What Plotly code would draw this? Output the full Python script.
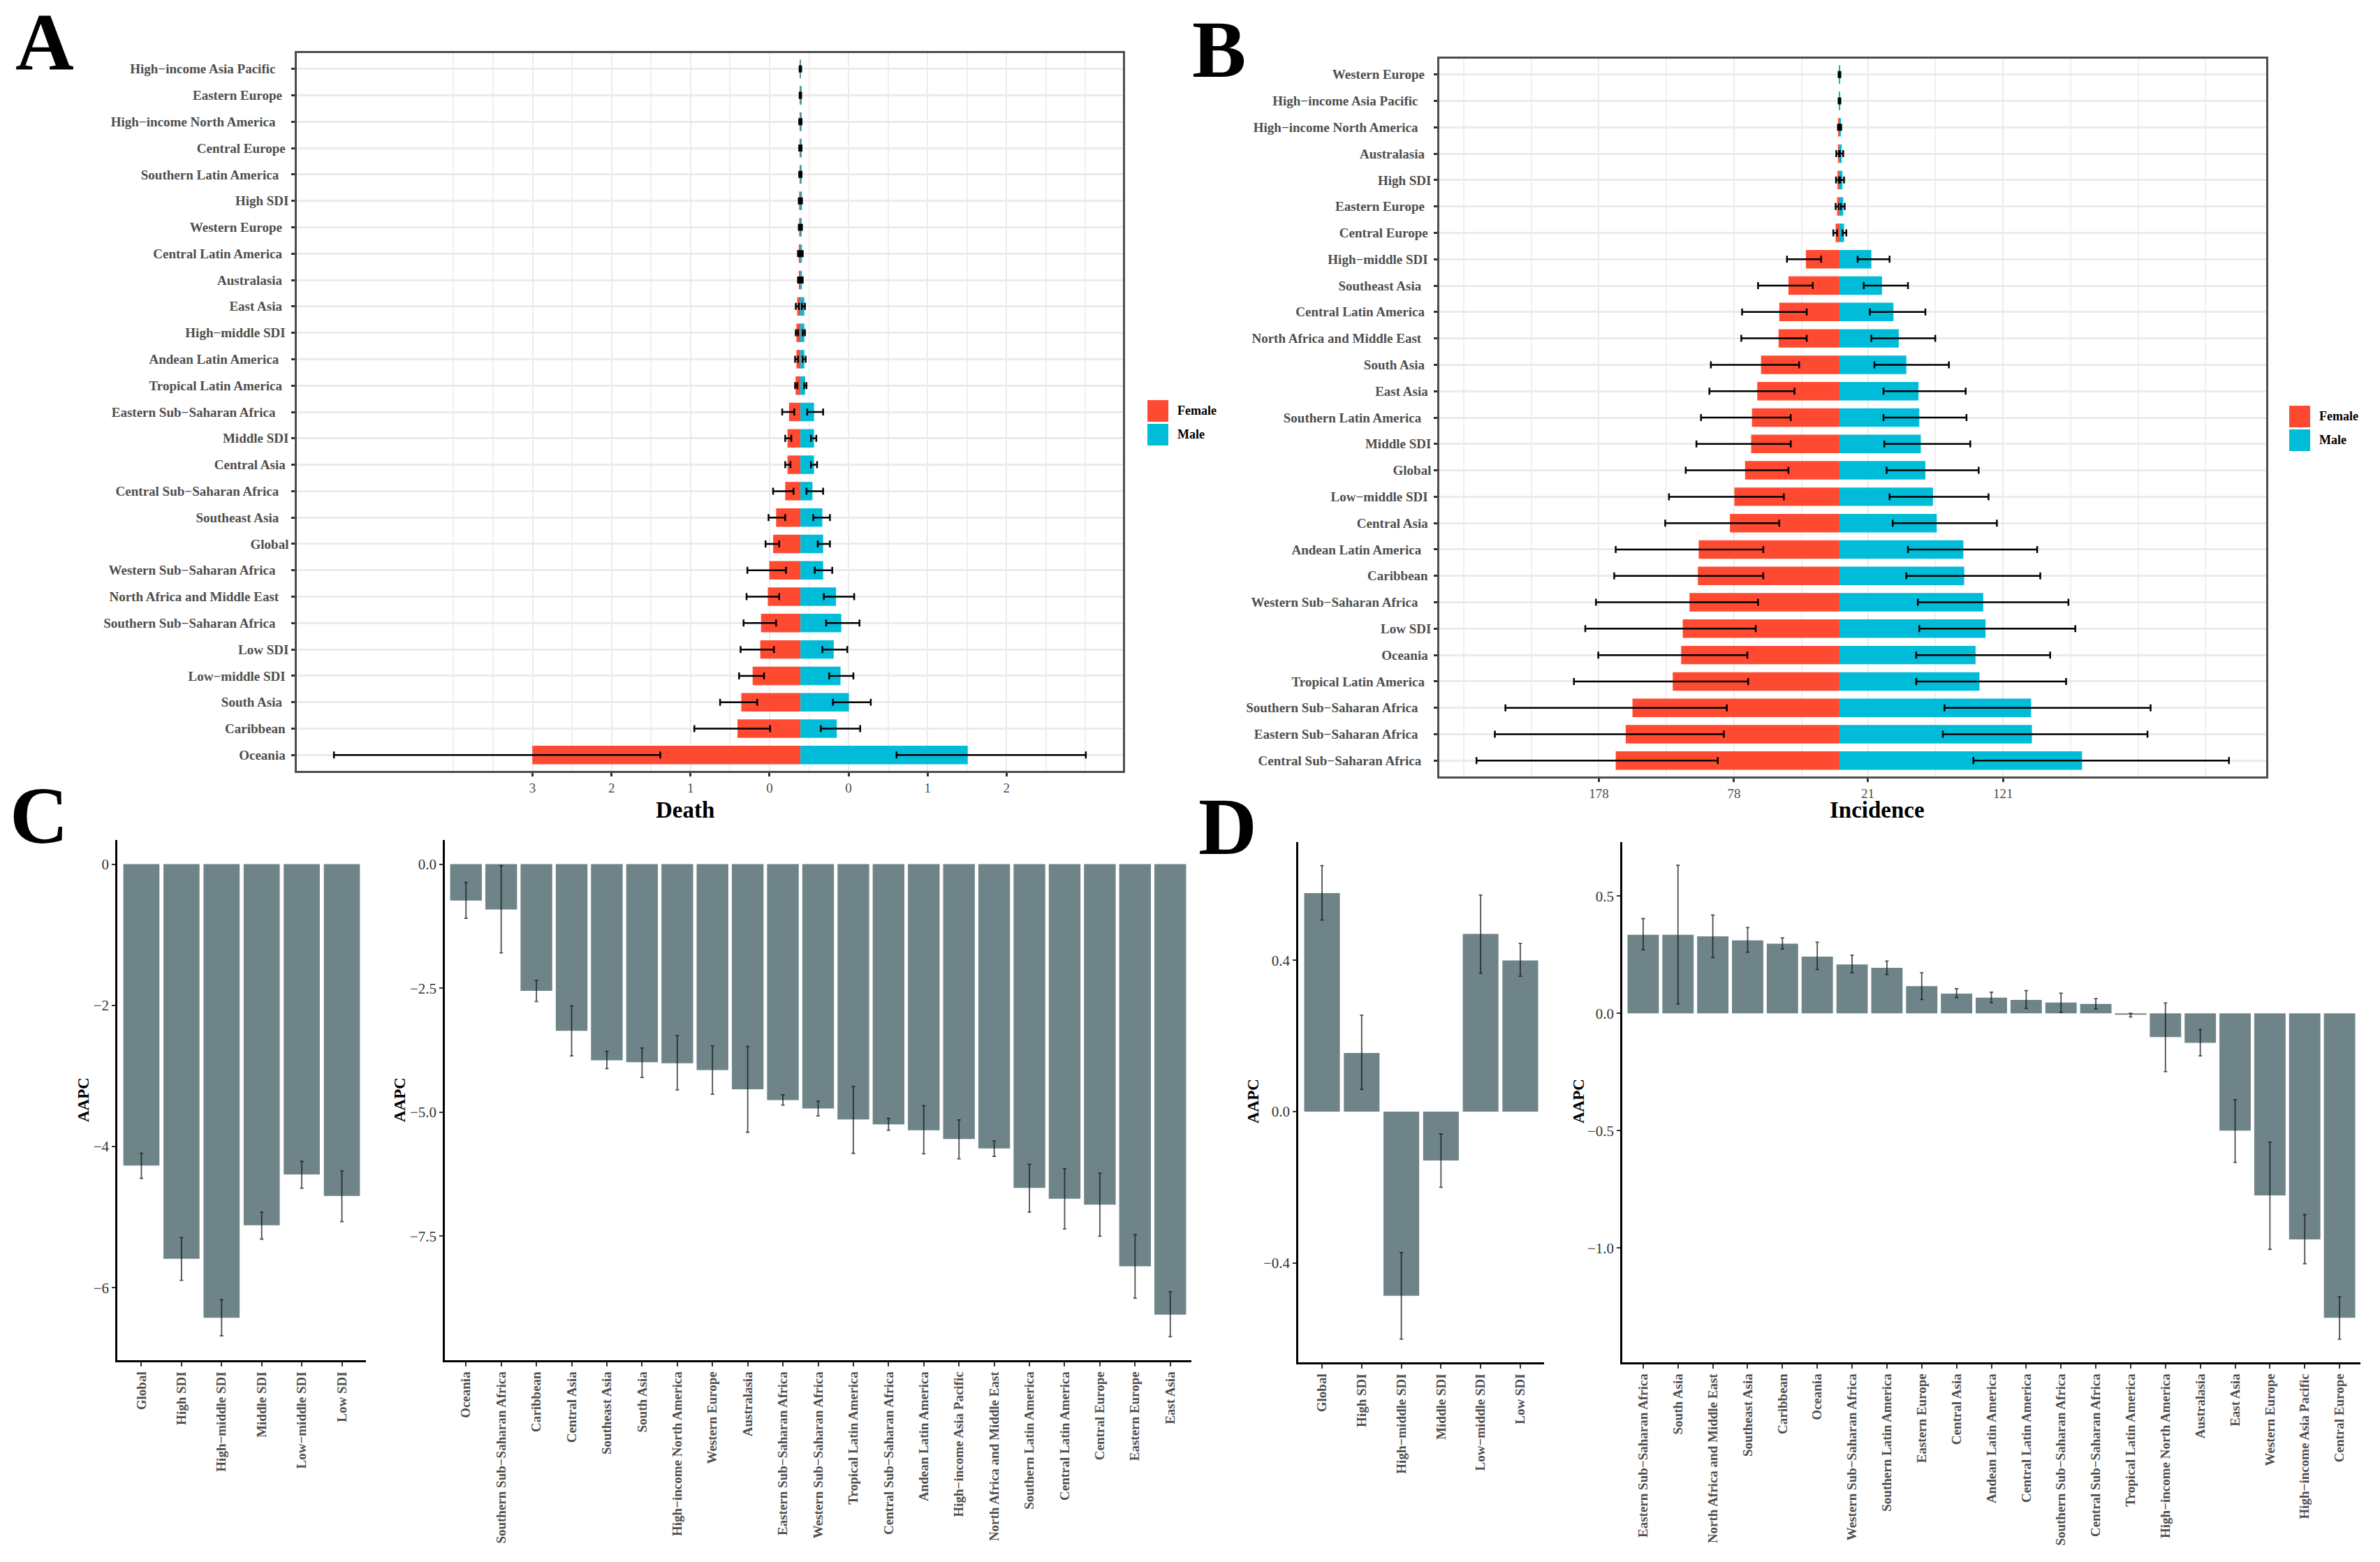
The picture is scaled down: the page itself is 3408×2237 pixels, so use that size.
import plotly.graph_objects as go

NB = "\u00a0"
W, H = 3408, 2237
SERIF = "Liberation Serif"

death_regions = ["High−income Asia Pacific" + NB*4, "Eastern Europe" + NB*2, "High−income North America" + NB*4,
                 "Central Europe" + NB, "Southern Latin America" + NB*3, "High SDI", "Western Europe" + NB*2,
                 "Central Latin America" + NB*2, "Australasia" + NB*2, "East Asia" + NB*2, "High−middle SDI" + NB,
                 "Andean Latin America" + NB*3, "Tropical Latin America" + NB*2, "Eastern Sub−Saharan Africa" + NB*4,
                 "Middle SDI", "Central Asia" + NB, "Central Sub−Saharan Africa" + NB*3, "Southeast Asia" + NB*3,
                 "Global", "Western Sub−Saharan Africa" + NB*4, "North Africa and Middle East" + NB*3,
                 "Southern Sub−Saharan Africa" + NB*4, "Low SDI", "Low−middle SDI" + NB, "South Asia" + NB*2,
                 "Caribbean" + NB, "Oceania" + NB]
death_female = [.005, .01, .01, .01, .01, .015, .015, .02, .02, .04, .05, .05, .06, .144, .163, .163, .192, .307,
                .345, .393, .412, .498, .508, .604, .748, .796, 3.393]
death_male = [.005, .01, .015, .01, .015, .02, .015, .02, .02, .05, .05, .05, .06, .173, .173, .173, .153, .278,
              .288, .288, .451, .518, .422, .508, .614, .46, 2.118]
death_female_outer = [.01, .01, .015, .015, .015, .02, .02, .03, .03, .058, .058, .067, .067, .23, .192, .192, .345,
                      .403, .441, .671, .681, .719, .757, .776, 1.016, 1.342, 5.904]
death_female_inner = [0, 0, 0, 0, 0, .005, .005, .01, .01, .019, .029, .029, .038, .077, .115, .125, .086, .192,
                      .268, .182, .268, .307, .335, .46, .546, .383, 1.773]
death_male_inner = [0, 0, 0, 0, 0, .005, .005, .01, .01, .019, .029, .029, .048, .086, .134, .134, .077, .163, .22,
                    .182, .297, .326, .278, .364, .412, .259, 1.217]
death_male_outer = [.01, .01, .015, .015, .015, .02, .02, .03, .03, .058, .058, .067, .077, .288, .201, .211, .288,
                    .374, .374, .403, .681, .748, .594, .671, .891, .757, 3.613]
death_ticks = [-3.39, -2.39, -1.39, -.39, .61, 1.61, 2.61]
death_ticktext = ["3", "2", "1", "0", "0", "1", "2"]
death_grid = [-4.39, -3.89, -2.89, -1.89, -.89, .11, 1.11, 2.11, 3.11, 3.61]

inc_regions = ["Western Europe" + NB*2, "High−income Asia Pacific" + NB*4, "High−income North America" + NB*4,
               "Australasia" + NB*2, "High SDI", "Eastern Europe" + NB*2, "Central Europe" + NB,
               "High−middle SDI" + NB, "Southeast Asia" + NB*3, "Central Latin America" + NB*2,
               "North Africa and Middle East" + NB*3, "South Asia" + NB*2, "East Asia" + NB,
               "Southern Latin America" + NB*3, "Middle SDI", "Global", "Low−middle SDI" + NB, "Central Asia" + NB,
               "Andean Latin America" + NB*3, "Caribbean" + NB, "Western Sub−Saharan Africa" + NB*4, "Low SDI",
               "Oceania" + NB, "Tropical Latin America" + NB*2, "Southern Sub−Saharan Africa" + NB*4,
               "Eastern Sub−Saharan Africa" + NB*4, "Central Sub−Saharan Africa" + NB*3]
inc_female = [.3, .3, .6, 1.1, 1.4, 1.7, 2.8, 24.8, 37.7, 44.5, 45.0, 58.0, 60.8, 64.7, 65.3, 69.8, 77.7, 81.0, 104.1,
              104.7, 110.9, 115.9, 117.1, 123.3, 153.1, 158.1, 165.5]
inc_male = [.6, .6, 1.1, 1.7, 2.2, 2.8, 3.4, 23.6, 31.5, 40.0, 43.9, 49.5, 58.5, 59.1, 60.2, 63.6, 69.2, 72.0, 91.7,
            92.3, 106.4, 108.1, 100.7, 103.6, 141.8, 142.4, 179.5]
inc_female_outer = [.6, .6, 1.1, 2.3, 2.5, 2.8, 4.5, 38.8, 60.2, 72.0, 72.6, 95.1, 96.2, 102.4, 105.8, 113.7, 126.1,
                    128.9, 165.5, 166.6, 180.1, 188.0, 178.4, 196.4, 247.1, 254.9, 268.5]
inc_female_inner = [.1, .1, .2, .3, .3, .3, 1.7, 13.5, 19.7, 24.2, 24.2, 29.8, 33.2, 36.0, 36.0, 37.7, 41.1, 44.5,
                    56.3, 56.3, 60.2, 61.9, 68.1, 67.5, 83.3, 85.5, 90.0]
inc_male_inner = [.1, .1, .3, .3, .6, 1.1, 2.3, 13.5, 18.0, 22.5, 23.6, 25.9, 32.6, 32.6, 33.2, 34.9, 37.1, 39.4,
                  50.7, 49.5, 58.0, 59.1, 56.8, 56.8, 77.7, 76.5, 99.1]
inc_male_outer = [.7, .7, 1.3, 2.8, 3.4, 3.9, 5.1, 37.1, 50.7, 63.6, 70.9, 81.0, 93.4, 94.0, 96.8, 103.0, 110.3,
                  116.5, 146.3, 148.6, 169.4, 174.5, 155.9, 167.7, 230.2, 227.9, 288.2]
inc_ticks = [-178, -78, 21, 121]
inc_ticktext = ["178", "78", "21", "121"]
inc_grid = [-278, -228, -128, -28, 71, 171, 221, 271]

sdi_death = ["Global", "High SDI", "High−middle SDI", "Middle SDI", "Low−middle SDI", "Low SDI"]
sdi_death_aapc = [-4.27, -5.59, -6.426, -5.114, -4.395, -4.70]
sdi_death_upper = [-4.095, -5.29, -6.17, -4.93, -4.21, -4.347]
sdi_death_lower = [-4.45, -5.895, -6.68, -5.31, -4.59, -5.065]

reg_death = ["Oceania", "Southern Sub−Saharan Africa", "Caribbean", "Central Asia", "Southeast Asia", "South Asia",
             "High−income North America", "Western Europe", "Australasia", "Eastern Sub−Saharan Africa",
             "Western Sub−Saharan Africa", "Tropical Latin America", "Central Sub−Saharan Africa",
             "Andean Latin America", "High−income Asia Pacific", "North Africa and Middle East",
             "Southern Latin America", "Central Latin America", "Central Europe", "Eastern Europe", "East Asia"]
reg_death_aapc = [-.735, -.914, -2.553, -3.358, -3.954, -3.993, -4.013, -4.152, -4.54, -4.758, -4.927, -5.146, -5.245,
                  -5.364, -5.543, -5.732, -6.526, -6.745, -6.864, -8.106, -9.08]
reg_death_upper = [-.368, -.03, -2.344, -2.86, -3.775, -3.705, -3.457, -3.665, -3.675, -4.649, -4.778, -4.48, -5.126,
                   -4.867, -5.155, -5.583, -6.05, -6.139, -6.228, -7.47, -8.62]
reg_death_lower = [-1.09, -1.788, -2.77, -3.864, -4.122, -4.30, -4.55, -4.64, -5.404, -4.857, -5.076, -5.83, -5.364,
                   -5.84, -5.94, -5.89, -7.013, -7.351, -7.50, -8.75, -9.526]

sdi_inc = ["Global", "High SDI", "High−middle SDI", "Middle SDI", "Low−middle SDI", "Low SDI"]
sdi_inc_aapc = [.578, .155, -.487, -.129, .47, .40]
sdi_inc_upper = [.651, .255, -.373, -.059, .573, .445]
sdi_inc_lower = [.507, .059, -.602, -.20, .366, .358]

reg_inc = ["Eastern Sub−Saharan Africa", "South Asia", "North Africa and Middle East", "Southeast Asia", "Caribbean",
           "Oceania", "Western Sub−Saharan Africa", "Southern Latin America", "Eastern Europe", "Central Asia",
           "Andean Latin America", "Central Latin America", "Southern Sub−Saharan Africa",
           "Central Sub−Saharan Africa", "Tropical Latin America", "High−income North America", "Australasia",
           "East Asia", "Western Europe", "High−income Asia Pacific", "Central Europe"]
reg_inc_aapc = [.335, .335, .328, .311, .297, .242, .208, .194, .116, .084, .067, .057, .046, .04, -.006, -.101, -.126,
                -.50, -.776, -.964, -1.298]
reg_inc_upper = [.404, .631, .419, .366, .322, .303, .248, .223, .173, .105, .09, .097, .086, .063, 0, .044, -.069,
                 -.368, -.549, -.858, -1.208]
reg_inc_lower = [.271, .04, .238, .261, .274, .187, .173, .166, .059, .067, .046, .021, .004, .019, -.015, -.248,
                 -.181, -.635, -1.006, -1.067, -1.389]

RED = "#FF4A32"
BLUE = "#00BCD9"
BAR = "#6F8488"


def dom_x(left, right):
    return [left / W, right / W]


def dom_y(top, bottom):
    return [1 - bottom / H, 1 - top / H]


fig = go.Figure()


def pyramid(ax, regions, female, male, f_outer, f_inner, m_inner, m_outer, ticks, ticktext, grid, xr, box):
    xname = "xaxis" + ax
    yname = "yaxis" + ax
    # female bars go left of zero, error bars are read as absolute ends
    fig.add_trace(go.Bar(y=regions, x=[-v for v in female], orientation="h", width=0.7,
                         marker=dict(color=RED, line=dict(width=0)), xaxis="x" + ax, yaxis="y" + ax, showlegend=False,
                         error_x=dict(type="data", symmetric=False,
                                      array=[f - i for f, i in zip(female, f_inner)],
                                      arrayminus=[o - f for f, o in zip(female, f_outer)],
                                      color="black", thickness=2.5, width=5)))
    fig.add_trace(go.Bar(y=regions, x=male, orientation="h", width=0.7,
                         marker=dict(color=BLUE, line=dict(width=0)), xaxis="x" + ax, yaxis="y" + ax, showlegend=False,
                         error_x=dict(type="data", symmetric=False,
                                      array=[o - m for m, o in zip(male, m_outer)],
                                      arrayminus=[m - i for m, i in zip(male, m_inner)],
                                      color="black", thickness=2.5, width=5)))
    fig.update_layout({
        xname: dict(domain=dom_x(box[0], box[1]), range=xr, anchor="y" + ax, tickmode="array", tickvals=ticks,
                    ticktext=ticktext, showgrid=True, gridcolor="#ebebeb", gridwidth=2, zeroline=False,
                    showline=True, mirror=True, linecolor="#4d4d4d", linewidth=2.5, ticks="outside", ticklen=5,
                    tickwidth=2.5, tickcolor="#333333", tickfont=dict(family=SERIF, size=19, color="#4d4d4d"),
                    minor=dict(tickmode="array", tickvals=grid, showgrid=True, gridcolor="#f0f0f0", gridwidth=1.5,
                               ticks="")),
        yname: dict(domain=dom_y(box[2], box[3]), type="category", categoryorder="array", categoryarray=regions,
                    range=[len(regions) - 0.4, -0.6], anchor="x" + ax, showgrid=True, gridcolor="#ebebeb",
                    gridwidth=3, zeroline=False, showline=True, mirror=True, linecolor="#4d4d4d", linewidth=2.5,
                    ticks="outside", ticklen=5, tickwidth=3, tickcolor="#333333",
                    tickfont=dict(family=SERIF, size=19, color="#4d4d4d", weight="bold")),
    })


def aapc_bars(ax, regions, aapc, upper, lower, tickvals, ticktext, yr, box):
    fig.add_trace(go.Bar(x=regions, y=aapc, width=0.9, marker=dict(color=BAR, line=dict(width=0)),
                         xaxis="x" + ax, yaxis="y" + ax, showlegend=False,
                         error_y=dict(type="data", symmetric=False,
                                      array=[u - a for a, u in zip(aapc, upper)],
                                      arrayminus=[a - l for a, l in zip(aapc, lower)],
                                      color="rgba(20,20,20,0.75)", thickness=1.8, width=2.5)))
    fig.update_layout({
        "xaxis" + ax: dict(domain=dom_x(box[0], box[1]), type="category", categoryorder="array", categoryarray=regions,
                           range=[-0.6, len(regions) - 0.4], anchor="y" + ax, showgrid=False, zeroline=False,
                           showline=True, linecolor="black", linewidth=2.5, ticks="outside", ticklen=6, tickwidth=2,
                           tickcolor="#333333", tickangle=-90,
                           tickfont=dict(family=SERIF, size=19, color="#4d4d4d", weight="bold")),
        "yaxis" + ax: dict(domain=dom_y(box[2], box[3]), range=yr, anchor="x" + ax, tickmode="array",
                           tickvals=tickvals, ticktext=ticktext, showgrid=False, zeroline=False, showline=True,
                           linecolor="black", linewidth=2.5, ticks="outside", ticklen=5, tickwidth=2,
                           tickcolor="#333333", tickfont=dict(family=SERIF, size=21, color="#333333")),
    })


pyramid("", death_regions, death_female, death_male, death_female_outer, death_female_inner, death_male_inner,
        death_male_outer, death_ticks, death_ticktext, death_grid, [-6.374, 4.083], (425, 1608, 76, 1104))
pyramid("2", inc_regions, inc_female, inc_male, inc_female_outer, inc_female_inner, inc_male_inner, inc_male_outer,
        inc_ticks, inc_ticktext, inc_grid, [-296, 315.7], (2061, 3245, 84, 1112))
aapc_bars("3", sdi_death, sdi_death_aapc, sdi_death_upper, sdi_death_lower, [0, -2, -4, -6], ["0", "−2", "−4", "−6"],
          [-7.026, .342], (168, 524, 1203, 1948))
aapc_bars("4", reg_death, reg_death_aapc, reg_death_upper, reg_death_lower, [0, -2.5, -5, -7.5],
          ["0.0", "−2.5", "−5.0", "−7.5"], [-10.0, .487], (637, 1706, 1203, 1948))
aapc_bars("5", sdi_inc, sdi_inc_aapc, sdi_inc_upper, sdi_inc_lower, [.4, 0, -.4], ["0.4", "0.0", "−0.4"],
          [-.663, .713], (1859, 2211, 1206, 1951))
aapc_bars("6", reg_inc, reg_inc_aapc, reg_inc_upper, reg_inc_lower, [.5, 0, -.5, -1], ["0.5", "0.0", "−0.5", "−1.0"],
          [-1.4875, .73], (2323, 3380, 1206, 1951))


def text(x, y, s, size, color="black", bold=True, angle=0, xanchor="center"):
    fig.add_annotation(x=x / W, y=1 - y / H, xref="paper", yref="paper", text="<b>%s</b>" % s if bold else s,
                       showarrow=False, textangle=angle, xanchor=xanchor, yanchor="middle",
                       font=dict(family=SERIF, size=size, color=color))


# panel letters and free titles sit where the composed figure put them
text(20, 60, "A", 116, xanchor="left")
text(1705, 71, "B", 116, xanchor="left")
text(12, 1168, "C", 116, xanchor="left")
text(1714, 1184, "D", 116, xanchor="left")
text(981, 1160, "Death", 33)
text(2688, 1160, "Incidence", 33)
for x, y in [(119, 1575), (572, 1575), (1794, 1577), (2260, 1577)]:
    text(x, y, "AAPC", 23, angle=-90)


def legend(x, y):
    for i, (name, col) in enumerate([("Female", RED), ("Male", BLUE)]):
        top = y + i * 34
        fig.add_shape(type="rect", xref="paper", yref="paper", x0=x / W, x1=(x + 30) / W, y0=1 - top / H,
                      y1=1 - (top + 31) / H, fillcolor=col, line=dict(width=0))
        text(x + 41, top + 15, name, 18, xanchor="left")


legend(1643, 573)
legend(3278, 581)

fig.update_layout(width=W, height=H, margin=dict(l=0, r=0, t=0, b=0), paper_bgcolor="white", plot_bgcolor="white",
                  barmode="overlay", autosize=False)
fig.write_html("out.html", post_script="document.body.style.margin='0';", config={"displayModeBar": False})
